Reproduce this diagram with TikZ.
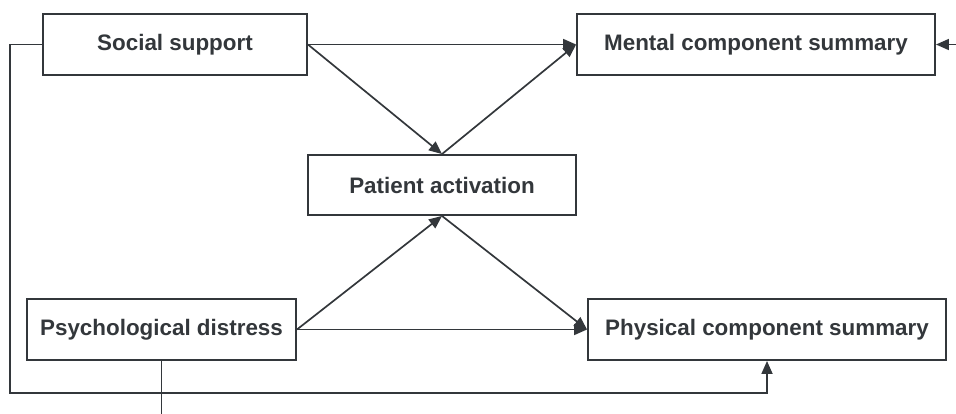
\documentclass[tikz,border=0pt]{standalone}
\usepackage{fontspec}
\setmainfont{Liberation Sans}
\usepackage{xcolor}
\usetikzlibrary{arrows.meta}
\definecolor{linegray}{HTML}{33373B}
\begin{document}
\begin{tikzpicture}[x=0.5pt,y=-0.5pt,
	box/.style={draw=linegray,line width=0.95pt,rectangle,inner sep=0pt,minimum height=30.5pt,font=\fontsize{11.2}{13}\selectfont\bfseries,text=linegray},
	path/.style={draw=linegray,line width=0.85pt,-{Triangle[length=6.5pt,width=5.5pt]}}]
		\useasboundingbox (0,0) rectangle (956,413);
		\node[box,minimum width=132pt] (ss) at (175,44.5) {Social support};
		\node[box,minimum width=179pt] (mcs) at (756,44.5) {Mental component summary};
		\node[box,minimum width=134pt,minimum height=30pt] (pa) at (442,185) {Patient activation};
		\node[box,minimum width=134.5pt] (pd) at (161.5,329.5) {Psychological distress};
		\node[box,minimum width=179pt] (pcs) at (767,329.5) {Physical component summary};
		\coordinate (lc) at (10,393);
		\coordinate (pdout) at (161.5,420);
		\coordinate (mcsin) at (960,44.5);
		\tikzstyle{every edge}+=[path]
		\draw (ss.east) edge (mcs.west) edge (pa.north)
		(pa.north) edge (mcs.west)
		(pd.east) edge (pa.south) edge (pcs.west)
		(pa.south) edge (pcs.west)
		(mcsin) edge (mcs.east);
		\draw[path] (ss.west) -| (lc) -| (pcs.south);
		\draw[path,-] (pd.south) -- (pdout);
		\end{tikzpicture}
\end{document}
